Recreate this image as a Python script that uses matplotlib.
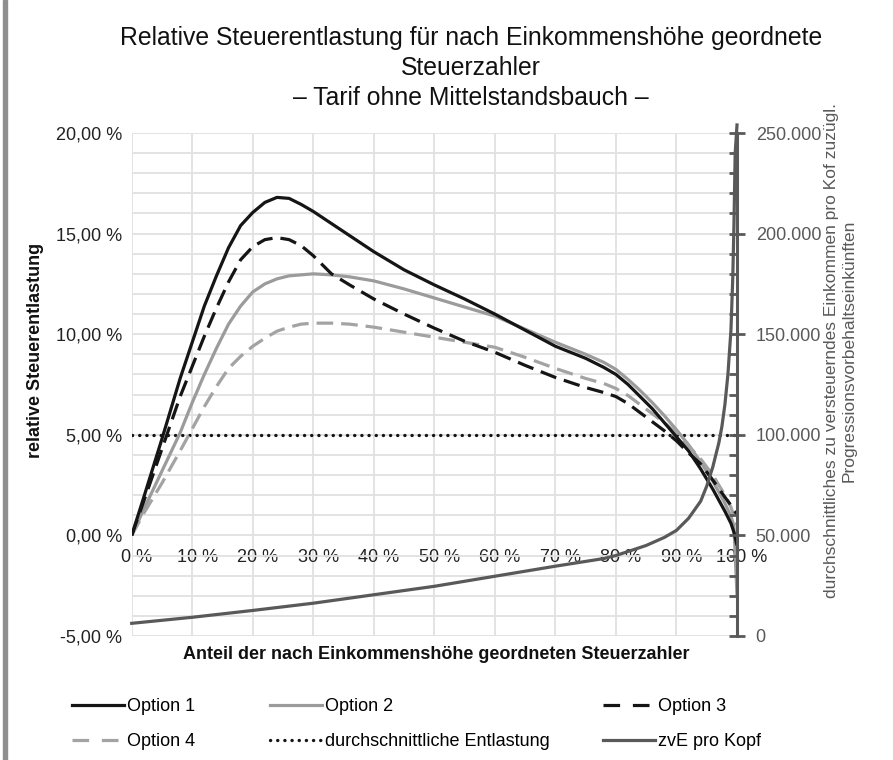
import matplotlib
matplotlib.use("Agg")
import matplotlib.pyplot as plt
import matplotlib.transforms as mtransforms
from matplotlib.ticker import MultipleLocator, FuncFormatter, FixedLocator
from matplotlib.lines import Line2D
from matplotlib.patches import Rectangle
from matplotlib.font_manager import FontProperties

plt.rcParams['font.family'] = ['Liberation Sans', 'DejaVu Sans']

# ---------------- data ----------------
share = [0, 2, 5, 8, 10, 12, 14, 16, 18, 20, 22, 24, 26, 28, 30, 33, 36, 40, 45, 50,
         55, 60, 65, 70, 75, 78, 80, 82, 84, 86, 88, 90, 92, 94, 96, 98, 99, 99.5, 100]

option1 = [0, 1.9, 4.8, 7.8, 9.6, 11.4, 12.9, 14.3, 15.4, 16.05, 16.55, 16.8, 16.75, 16.45, 16.1,
           15.5, 14.9, 14.1, 13.2, 12.45, 11.75, 11.0, 10.2, 9.4, 8.8, 8.35, 8.0, 7.5, 6.9, 6.3,
           5.6, 4.9, 4.2, 3.3, 2.3, 1.2, 0.6, 0.15, -0.5]
option2 = [0, 1.3, 3.2, 5.1, 6.6, 8.0, 9.3, 10.5, 11.4, 12.1, 12.5, 12.75, 12.9, 12.95, 13.0,
           12.95, 12.85, 12.65, 12.25, 11.8, 11.35, 10.9, 10.25, 9.6, 9.0, 8.6, 8.25, 7.75, 7.2, 6.6,
           5.95, 5.25, 4.5, 3.65, 2.7, 1.6, 0.95, 0.45, -3.0]
option3 = [0, 1.7, 4.3, 6.9, 8.4, 9.9, 11.3, 12.6, 13.7, 14.35, 14.7, 14.8, 14.7, 14.4, 13.9,
           13.0, 12.45, 11.75, 11.0, 10.3, 9.65, 9.1, 8.45, 7.85, 7.35, 7.1, 6.9, 6.55, 6.1, 5.65,
           5.2, 4.7, 4.1, 3.55, 2.75, 1.9, 1.5, 1.25, 1.05]
option4 = [0, 1.1, 2.6, 4.2, 5.3, 6.4, 7.4, 8.3, 8.9, 9.4, 9.8, 10.15, 10.35, 10.5, 10.55,
           10.55, 10.5, 10.35, 10.1, 9.85, 9.6, 9.35, 8.85, 8.3, 7.8, 7.55, 7.3, 6.95, 6.5, 6.05,
           5.6, 5.1, 4.45, 3.8, 3.0, 2.0, 1.4, 0.95, 0.5]

avg_x = [0, 100]
avg_relief = [5.0, 5.0]

zve_x = [0, 10, 20, 30, 40, 50, 60, 70, 78, 80, 85, 88, 90, 92, 94, 95, 96, 97, 97.5, 98, 98.5,
         99, 99.3, 99.5, 99.7, 100]
zve = [6300, 9300, 12700, 16300, 20500, 24700, 29700, 34700, 38500, 40000, 45000, 49000, 52500,
       58500, 67000, 74500, 84000, 96000, 104000, 115000, 130000, 152000, 178000, 205000, 240000,
       254000]

x_ticks = [0, 10, 20, 30, 40, 50, 60, 70, 80, 90, 100]
y_ticks = [-5, 0, 5, 10, 15, 20]
y2_ticks = [0, 50000, 100000, 150000, 200000, 250000]

labels = ["Option 1", "Option 2", "Option 3", "Option 4",
          "durchschnittliche Entlastung", "zvE pro Kopf"]

title = ("Relative Steuerentlastung für nach Einkommenshöhe geordnete\n"
         "Steuerzahler\n– Tarif ohne Mittelstandsbauch –")
ylabel = "relative Steuerentlastung"
xlabel = "Anteil der nach Einkommenshöhe geordneten Steuerzahler"
y2label = ("durchschnittliches zu versteuerndes Einkommen pro Kof zuzügl.\n"
           "Progressionsvorbehaltseinkünften")

# ---------------- figure ----------------
W, H = 893, 760
fig = plt.figure(figsize=(W / 100, H / 100), dpi=100)
fig.patches.append(Rectangle((3 / W, 0), 4 / W, 1, transform=fig.transFigure,
                             color='#8f8f8f', zorder=0))

L, R, T, B = 131.7, 737, 133, 636
ax = fig.add_axes([L / W, 1 - B / H, (R - L) / W, (B - T) / H])
ax2 = ax.twinx()

ax.set_xlim(0, 100)
ax.set_ylim(-5, 20)
ax2.set_ylim(0, 250000)

grid_c = '#e1e1e1'
ax.xaxis.set_major_locator(FixedLocator(x_ticks))
ax.yaxis.set_major_locator(FixedLocator(y_ticks))
ax.yaxis.set_minor_locator(MultipleLocator(1))
ax.grid(True, which='major', axis='x', color=grid_c, lw=1.3)
ax.grid(True, which='both', axis='y', color=grid_c, lw=1.3)
ax.set_axisbelow(True)
for s in ax.spines.values():
    s.set_visible(False)
ax.spines['bottom'].set_position(('data', 0))
ax.tick_params(axis='both', which='both', length=0)
ax.tick_params(axis='x', pad=10, labelsize=13, colors='#222222')
ax.tick_params(axis='y', pad=7, labelsize=13, colors='#222222')
ax.xaxis.set_major_formatter(FuncFormatter(lambda v, p: f"{int(v)} %"))
ax.yaxis.set_major_formatter(FuncFormatter(lambda v, p: f"{v:.2f}".replace('.', ',') + " %"))
off = mtransforms.ScaledTranslation(5 / 100, 0, fig.dpi_scale_trans)
for lab in ax.get_xticklabels():
    lab.set_transform(lab.get_transform() + off)

lw = 2.3
dash = (0, (5.2, 2.5))
leg_dash = (0, (5.2, 4.0))
dots = (0, (0.05, 2.1))
ax.plot(share, option1, color='#151515', lw=lw, solid_capstyle='butt', zorder=5)
ax.plot(share, option2, color='#9b9b9b', lw=lw, solid_capstyle='butt', zorder=4)
ax.plot(share, option3, color='#151515', lw=lw, ls=dash, zorder=5)
ax.plot(share, option4, color='#a3a3a3', lw=lw, ls=dash, zorder=4)
ax.plot(avg_x, avg_relief, color='#151515', lw=2.4, ls=dots, dash_capstyle='round', zorder=3)

ax2.plot(zve_x, zve, color='#595959', lw=lw, zorder=6, clip_on=False)
for s in ['top', 'left', 'bottom']:
    ax2.spines[s].set_visible(False)
ax2.spines['right'].set_color('#595959')
ax2.spines['right'].set_linewidth(2.2)
ax2.yaxis.set_major_locator(FixedLocator(y2_ticks))
ax2.yaxis.set_minor_locator(MultipleLocator(10000))
ax2.tick_params(axis='y', which='major', direction='inout', length=11, width=2,
                color='#595959', labelcolor='#595959', labelsize=13, pad=8)
ax2.tick_params(axis='y', which='minor', direction='in', length=6, width=2, color='#595959')
ax2.yaxis.set_major_formatter(FuncFormatter(lambda v, p: f"{int(v):,}".replace(',', '.')))

ax.set_ylabel(ylabel, fontsize=13, fontweight='bold', color='#111111')
ax.yaxis.set_label_coords(-0.145, 0.567)
ax.set_xlabel(xlabel, fontsize=13, fontweight='bold', color='#111111')
ax.xaxis.set_label_coords(0.503, -0.019)
ax2.set_ylabel(y2label, fontsize=12.5, color='#595959', linespacing=1.2)
ax2.yaxis.set_label_coords(1.144, 0.567)

fig.text(471 / W, 1 - 68 / H, title, ha='center', va='center', fontsize=17.8,
         linespacing=1.3, color='#111111')

# ---------------- legend ----------------
h1 = Line2D([], [], color='#151515', lw=lw)
h2 = Line2D([], [], color='#9b9b9b', lw=lw)
h3 = Line2D([], [], color='#151515', lw=lw, ls=leg_dash)
h4 = Line2D([], [], color='#a3a3a3', lw=lw, ls=leg_dash)
h5 = Line2D([], [], color='#151515', lw=2.4, ls=dots, dash_capstyle='round')
h6 = Line2D([], [], color='#595959', lw=lw)
lprop = FontProperties(family=['Liberation Sans'], size=13)
cols = [([h1, h4], [labels[0], labels[3]], 71.7),
        ([h2, h5], [labels[1], labels[4]], 270),
        ([h3, h6], [labels[2], labels[5]], 603)]
for hs, ls_, x0 in cols:
    fig.legend(hs, ls_, loc='upper left', bbox_to_anchor=(x0 / W, 1 - 698 / H),
               frameon=False, prop=lprop, handlelength=2.87, handletextpad=0.17,
               labelspacing=1.0, borderpad=0, borderaxespad=0)

fig.savefig("out.png", dpi=100)
